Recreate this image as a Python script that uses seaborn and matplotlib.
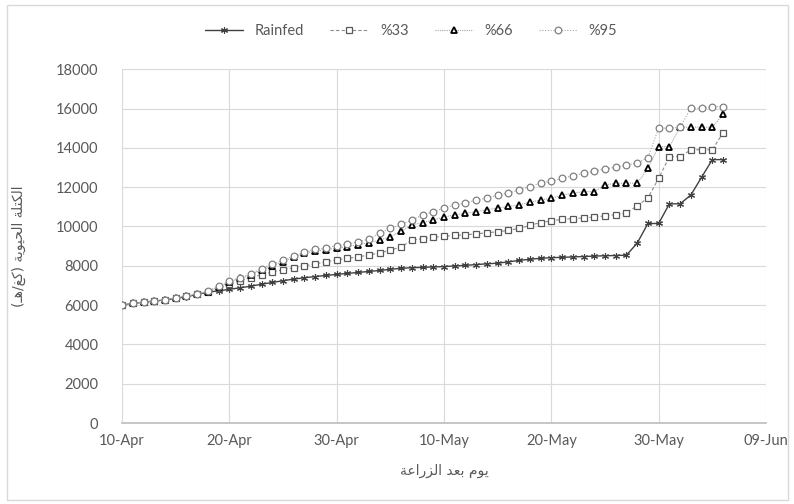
import pandas as pd
import matplotlib
matplotlib.use('Agg')
import matplotlib.pyplot as plt
from matplotlib.patches import Rectangle
import matplotlib.dates as mdates
import seaborn as sns

# daily values, 10-Apr to 05-Jun
dates = pd.date_range('2021-04-10', periods=57, freq='D')
rainfed = [6000, 6080, 6150, 6200, 6260, 6340, 6430, 6540, 6660, 6720,
           6800, 6880, 6960, 7060, 7150, 7240, 7320, 7390, 7450, 7510,
           7560, 7610, 7660, 7710, 7760, 7820, 7870, 7900, 7920, 7940,
           7960, 7990, 8020, 8060, 8100, 8130, 8200, 8270, 8330, 8380,
           8410, 8430, 8450, 8470, 8490, 8510, 8520, 8540,
           9150, 10150, 10150, 11150, 11150, 11600, 12500, 13400, 13400]
p33 = [6000, 6080, 6150, 6200, 6270, 6350, 6440, 6550, 6670, 6850,
       7050, 7230, 7400, 7550, 7680, 7800, 7900, 8000, 8090, 8200,
       8300, 8380, 8450, 8550, 8650, 8800, 8960, 9300, 9380, 9440,
       9500, 9540, 9580, 9620, 9680, 9730, 9800, 9900, 10050, 10200,
       10280, 10360, 10400, 10430, 10480, 10540, 10600, 10690,
       11050, 11450, 12450, 13550, 13550, 13900, 13900, 13900, 14760]
p66 = [6000, 6080, 6150, 6200, 6270, 6360, 6450, 6560, 6690, 6930,
       7180, 7360, 7540, 7790, 8000, 8200, 8450, 8650, 8750, 8820,
       8900, 8970, 9080, 9180, 9300, 9470, 9750, 10080, 10200, 10330,
       10480, 10590, 10670, 10750, 10850, 10940, 11020, 11100, 11230, 11350,
       11430, 11600, 11690, 11770, 11770, 12110, 12200, 12200,
       12200, 12950, 14060, 14060, 15050, 15050, 15050, 15050, 15700]
p95 = [6000, 6080, 6150, 6200, 6270, 6360, 6450, 6570, 6710, 6960,
       7210, 7400, 7600, 7850, 8080, 8280, 8500, 8700, 8830, 8920,
       9020, 9100, 9220, 9350, 9650, 9900, 10100, 10330, 10590, 10750,
       10930, 11100, 11180, 11350, 11440, 11600, 11690, 11860, 12030, 12200,
       12300, 12450, 12580, 12700, 12820, 12920, 13020, 13120,
       13230, 13500, 15000, 15000, 15050, 16020, 16020, 16100, 16100]
series_names = ['Rainfed', '%33', '%66', '%95']
x_ticks = pd.date_range('2021-04-10', '2021-06-09', freq='10D')
y_ticks = list(range(0, 18001, 2000))
x_label = 'يوم بعد الزراعة'
y_label = 'الكتلة الحيوية (كغ/هـ)'

# matplotlib has no arabic shaping, so pick the joined glyph forms by hand
dual = {'ب': 0xFE8F, 'ت': 0xFE95, 'ح': 0xFEA1, 'ع': 0xFEC9, 'غ': 0xFECD,
        'ك': 0xFED9, 'ل': 0xFEDD, 'م': 0xFEE1, 'ه': 0xFEE9, 'ي': 0xFEF1, 'ـ': None}
right = {'ا': 0xFE8D, 'ة': 0xFE93, 'د': 0xFEA9, 'ر': 0xFEAD, 'ز': 0xFEAF, 'و': 0xFEED}


def shape_arabic(text):
    out = []
    for i, ch in enumerate(text):
        prev = text[i - 1] if i > 0 else ''
        nxt = text[i + 1] if i + 1 < len(text) else ''
        join_prev = prev in dual
        join_next = nxt in dual or nxt in right
        if dual.get(ch):
            base = dual[ch]
            if join_prev and join_next:
                out.append(chr(base + 3))
            elif join_prev:
                out.append(chr(base + 1))
            elif join_next:
                out.append(chr(base + 2))
            else:
                out.append(chr(base))
        elif ch in right:
            out.append(chr(right[ch] + 1) if join_prev else chr(right[ch]))
        else:
            out.append(ch)
    mirror = {'(': ')', ')': '('}
    return ''.join(mirror.get(c, c) for c in reversed(out))


sns.set_theme(style='white')
plt.rcParams['font.family'] = ['Lato', 'DejaVu Sans']

fig = plt.figure(figsize=(7.94, 5.04), dpi=100)
ax = fig.add_axes([0.1537, 0.1607, 0.811, 0.702])

styles = {
    'Rainfed': dict(color='#404040', linestyle='-', linewidth=1.0, marker=(6, 2, 0),
                    markersize=5, markeredgewidth=0.8, markeredgecolor='#404040'),
    '%33': dict(color='#8c8c8c', linestyle=(0, (3, 2)), linewidth=0.8, marker='s',
                markersize=4.8, markerfacecolor='white', markeredgecolor='#595959',
                markeredgewidth=0.9),
    '%66': dict(color='#a6a6a6', linestyle=(0, (1, 1)), linewidth=0.8, marker='^',
                markersize=5, markerfacecolor='white', markeredgecolor='black',
                markeredgewidth=1.3),
    '%95': dict(color='#a6a6a6', linestyle=(0, (1, 1.5)), linewidth=0.8, marker='o',
                markersize=4.8, markerfacecolor='white', markeredgecolor='#808080',
                markeredgewidth=0.9),
}
for name, vals in zip(series_names, [rainfed, p33, p66, p95]):
    sns.lineplot(x=dates, y=vals, ax=ax, label=name, **styles[name])

ax.set_xlim(x_ticks[0], x_ticks[-1])
ax.set_ylim(0, 18000)
ax.set_xticks(x_ticks)
ax.set_yticks(y_ticks)
ax.xaxis.set_major_formatter(mdates.DateFormatter('%d-%b'))
ax.grid(True, color='#d9d9d9', linewidth=0.8)
for side in ['left', 'right', 'top']:
    ax.spines[side].set_visible(False)
ax.spines['bottom'].set_color('#bfbfbf')
ax.tick_params(colors='#595959', labelsize=10.5, length=0)
ax.tick_params(axis='y', pad=17)
ax.tick_params(axis='x', pad=8)
ax.set_xlabel('')
ax.set_ylabel('')

ax.get_legend().remove()
handles, labels = ax.get_legend_handles_labels()
leg = fig.legend(handles, labels, ncol=4, loc='center', bbox_to_anchor=(0.518, 0.938),
                 frameon=False, fontsize=10.5, handlelength=2.6, columnspacing=1.8)
for t in leg.get_texts():
    t.set_color('#595959')

fig.text(444 / 794, 1 - 471 / 504, shape_arabic(x_label), ha='center', va='center',
         fontsize=10, color='#595959', family=['DejaVu Sans'])
fig.text(19 / 794, 1 - 246 / 504, shape_arabic(y_label), ha='center', va='center',
         rotation=90, fontsize=10, color='#595959', family=['DejaVu Sans'])

fig.patches.append(Rectangle((0.009, 0.008), 0.984, 0.982, transform=fig.transFigure,
                             fill=False, edgecolor='#d9d9d9', linewidth=1))

fig.savefig('out.png', dpi=100)
